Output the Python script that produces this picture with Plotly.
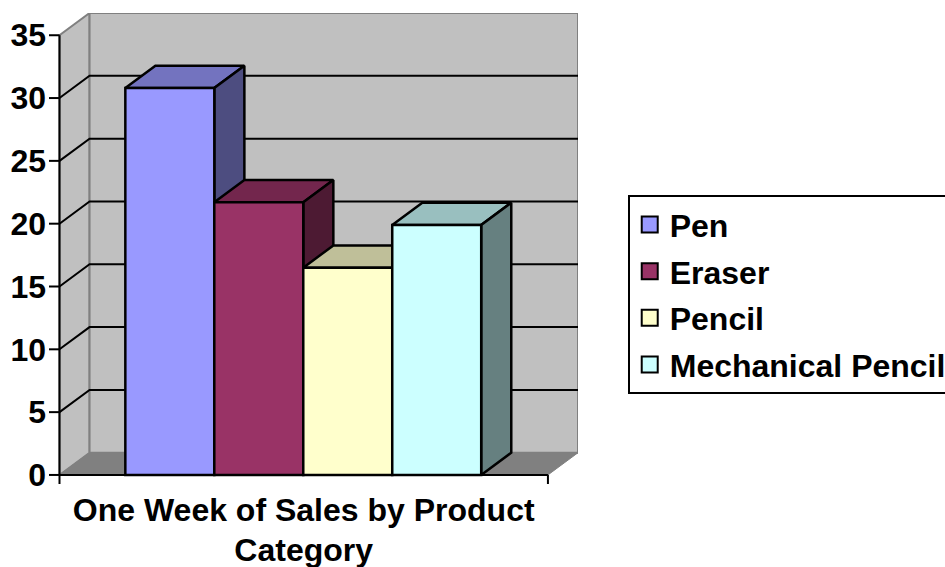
import plotly.graph_objects as go

# ---- data ----
category = "One Week of Sales by Product<br>Category"
series_names = ["Pen", "Eraser", "Pencil", "Mechanical Pencil"]
series_values = [30.8, 21.7, 16.5, 19.9]
y_ticks = [0, 5, 10, 15, 20, 25, 30, 35]

# ---- style ----
front_colors = ["#9999FF", "#993366", "#FFFFCC", "#CCFFFF"]
top_colors = ["#7373BF", "#73264D", "#BFBF99", "#99BFBF"]
side_colors = ["#4D4D80", "#4D1A33", "#808066", "#668080"]
WALL = "#C0C0C0"
FLOOR = "#808080"
EDGE = "#808080"
FONT = "Liberation Sans"
FS_TEXT = 32

# 3-D projection of the depth axis, in axis units
DX = 0.338
DY = 1.77
X0, X1 = -1.24, 4.25   # front edge of the category band
Y_TOP = y_ticks[-1]
TICK_X = 0.118         # tick length in x units
TICK_Y = 0.72          # tick length in y units
x_range = [X0 - TICK_X, X1 + DX]
y_range = [-TICK_Y, Y_TOP + DY]


def poly(xs, ys, fill, line_color, lw, xaxis="x", yaxis="y"):
    return go.Scatter(x=xs + xs[:1], y=ys + ys[:1], mode="lines", fill="toself",
                      fillcolor=fill, line=dict(color=line_color, width=lw),
                      showlegend=False, hoverinfo="skip", xaxis=xaxis, yaxis=yaxis)


fig = go.Figure()

# walls and floor
fig.add_trace(poly([X0, X0 + DX, X0 + DX, X0], [0, DY, Y_TOP + DY, Y_TOP], WALL, EDGE, 2))
fig.add_trace(poly([X0 + DX, X1 + DX, X1 + DX, X0 + DX], [DY, DY, Y_TOP + DY, Y_TOP + DY], WALL, EDGE, 2))
fig.add_trace(poly([X0, X1, X1 + DX, X0 + DX], [0, 0, DY, DY], FLOOR, EDGE, 1))

# gridlines over side wall and back wall
gx, gy = [], []
for t in y_ticks[1:-1]:
    gx += [X0, X0 + DX, X1 + DX, None]
    gy += [t, t + DY, t + DY, None]
fig.add_trace(go.Scatter(x=gx, y=gy, mode="lines", line=dict(color="black", width=2),
                         showlegend=False, hoverinfo="skip"))

# top and side faces of each column, behind the front faces
for i, v in enumerate(series_values):
    l, r = i - 0.5, i + 0.5
    fig.add_trace(poly([l, r, r + DX, l + DX], [v, v, v + DY, v + DY], top_colors[i], "black", 2.5))
    fig.add_trace(poly([r, r + DX, r + DX, r], [0, DY, v + DY, v], side_colors[i], "black", 2.5))

# front faces: real bars in an overlaid subplot so they cover the faces behind
for i, v in enumerate(series_values):
    fig.add_trace(go.Bar(x=[i], y=[v], width=1, name=series_names[i], xaxis="x2", yaxis="y2",
                         marker=dict(color=front_colors[i], line=dict(color="black", width=2.5)),
                         showlegend=False))

# legend entries
for i, name in enumerate(series_names):
    fig.add_trace(go.Scatter(x=[None], y=[None], mode="markers", name=name, legendgroup=name,
                             xaxis="x2", yaxis="y2",
                             marker=dict(symbol="square", size=16, color=front_colors[i],
                                         line=dict(color="black", width=2))))

# axis lines and tick marks
ax_x = [X0, X0, None, X0, X1, None, X1, X1]
ax_y = [Y_TOP, -TICK_Y, None, 0, 0, None, 0, -TICK_Y]
for t in y_ticks:
    ax_x += [None, X0 - TICK_X, X0]
    ax_y += [None, t, t]
fig.add_trace(go.Scatter(x=ax_x, y=ax_y, mode="lines", line=dict(color="black", width=2),
                         showlegend=False, hoverinfo="skip", xaxis="x2", yaxis="y2"))

fig.update_layout(
    width=945, height=567,
    paper_bgcolor="white", plot_bgcolor="white",
    margin=dict(l=48.9, r=367, t=12.7, b=82.9, pad=0, autoexpand=False),
    barmode="overlay",
    font=dict(family=FONT, size=FS_TEXT, color="black"),
    xaxis=dict(range=x_range, showgrid=False, zeroline=False, showline=False,
               tickmode="array", tickvals=[(X0 + X1) / 2],
               ticktext=[f'<span style="font-size:{FS_TEXT}px">' + category.replace("<br>", f'</span><br><span style="font-size:{FS_TEXT}px">') + "</span>"],
               ticks="", tickangle=0, ticklabelstandoff=4,
               tickfont=dict(family=FONT, size=31.5, color="black", weight="bold")),
    yaxis=dict(range=y_range, showgrid=False, zeroline=False, showline=False,
               tickmode="array", tickvals=y_ticks, ticks="", ticklabelstandoff=2,
               tickfont=dict(family=FONT, size=FS_TEXT, color="black", weight="bold")),
    xaxis2=dict(range=x_range, overlaying="x", visible=False),
    yaxis2=dict(range=y_range, overlaying="y", visible=False),
    legend=dict(x=1.094, y=0.613, xanchor="left", yanchor="top",
                bordercolor="black", borderwidth=2, bgcolor="white",
                tracegroupgap=2, itemsizing="trace", itemwidth=30,
                font=dict(family=FONT, size=FS_TEXT, color="black", weight="bold")),
)

fig.write_html("out.html", config=dict(displayModeBar=False),
               post_script="document.body.style.margin='0';")
